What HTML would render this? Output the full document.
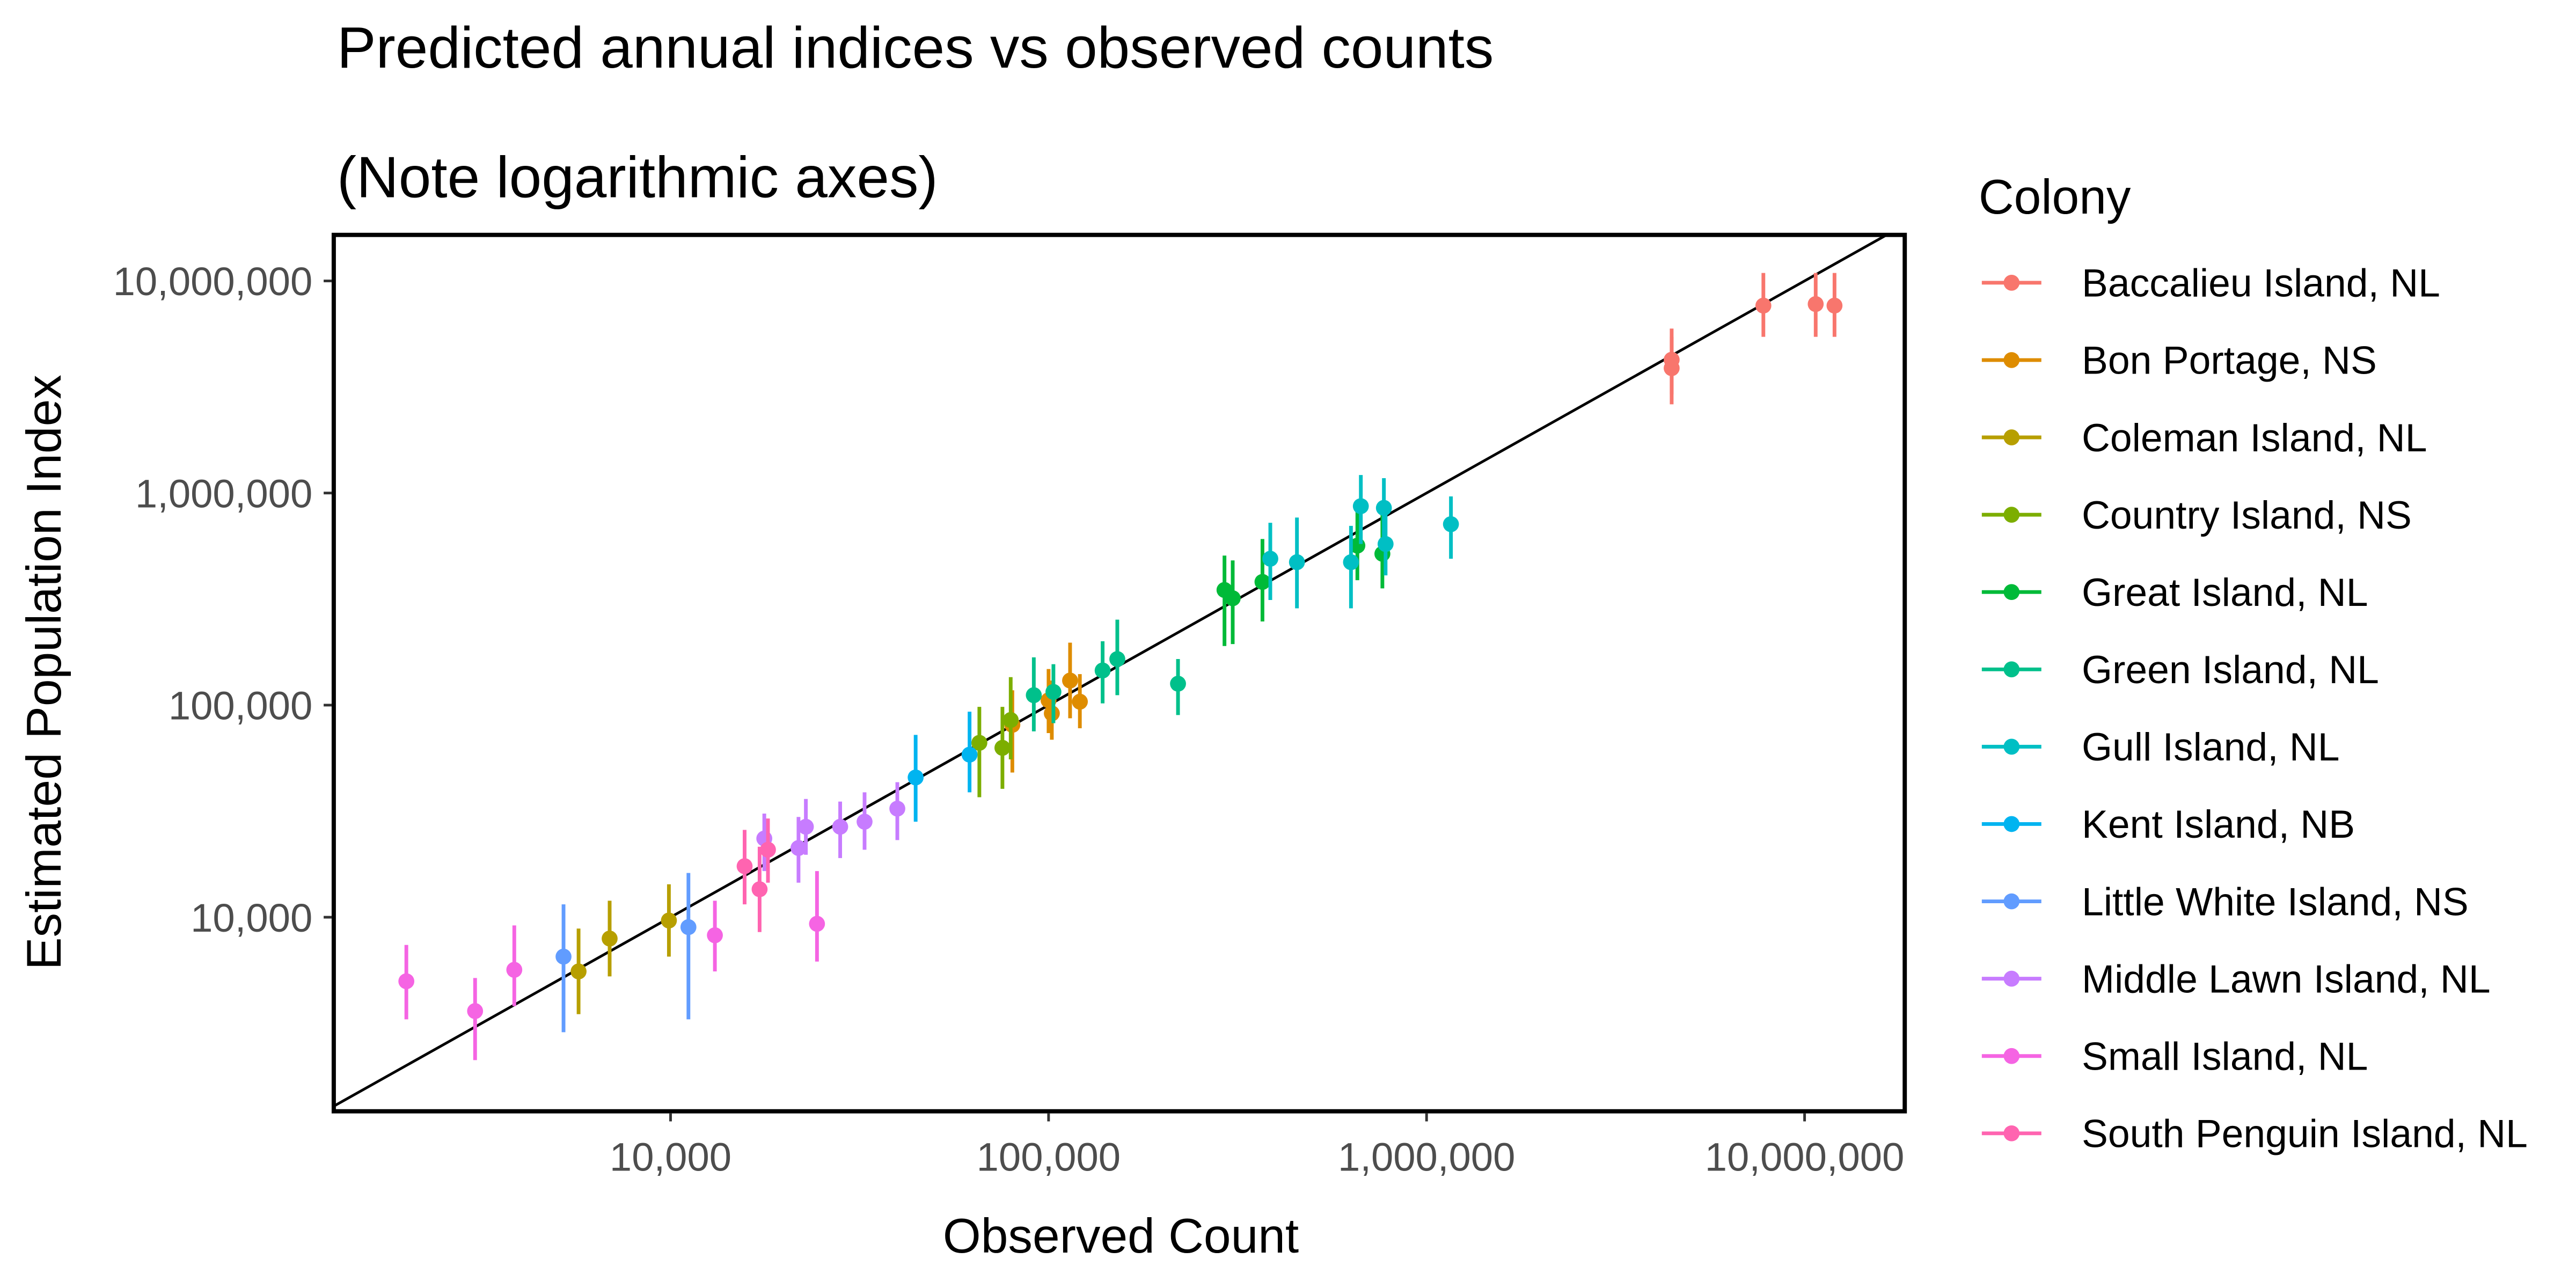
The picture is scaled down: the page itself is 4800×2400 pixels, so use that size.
<!DOCTYPE html>
<html><head><meta charset="utf-8"><style>
html,body{margin:0;padding:0;background:#fff;}
svg{display:block;font-family:"Liberation Sans",Arial,sans-serif;}
</style></head><body>
<svg id="chart" width="4800" height="2400" viewBox="0 0 4800 2400" xmlns="http://www.w3.org/2000/svg">
<rect width="4800" height="2400" fill="#fff"/>
<g transform="scale(0.9903)">
<text x="634" y="127" font-size="110" fill="#000">Predicted annual indices vs observed counts</text>
<text x="634" y="371" font-size="110" fill="#000">(Note logarithmic axes)</text>
<g id="plot"></g>
<text x="2109" y="2357" font-size="92" text-anchor="middle" fill="#000">Observed Count</text>
<text transform="translate(114,1265) rotate(-90)" font-size="92" text-anchor="middle" fill="#000">Estimated Population Index</text>
<g id="legend">
<text x="3723" y="402" font-size="92" fill="#000">Colony</text>
</g>
</g>
</svg>
<script>
const colonies = ["Baccalieu Island, NL","Bon Portage, NS","Coleman Island, NL","Country Island, NS","Great Island, NL","Green Island, NL","Gull Island, NL","Kent Island, NB","Little White Island, NS","Middle Lawn Island, NL","Small Island, NL","South Penguin Island, NL"];
const colors = ["#F8766D","#DE8C00","#B79F00","#7CAE00","#00BA38","#00C08B","#00BFC4","#00B4F0","#619CFF","#C77CFF","#F564E3","#FF64B0"];
const xTicks = [10000,100000,1000000,10000000];
const xTickLabels = ["10,000","100,000","1,000,000","10,000,000"];
const yTicks = [10000,100000,1000000,10000000];
const yTickLabels = ["10,000","100,000","1,000,000","10,000,000"];
const pointColony = [0,0,0,0,0, 1,1,1,1,1, 2,2,2, 3,3,3, 4,4,4,4,4, 5,5,5,5,5, 6,6,6,6,6,6,6, 7,7, 8,8, 9,9,9,9,9,9, 10,10,10,10,10, 11,11,11];
const observed = [4450000,4450000,7780000,10700000,12000000, 80200,100000,102000,114000,121000, 5710,6900,9900, 65600,75500,79400, 292000,307000,368000,656000,764000, 91400,103000,139000,152000,220000, 386000,454000,631000,670000,771000,779000,1160000, 44500,61800, 5210,11150, 17700,21800,22800,28100,32600,39800, 2000,3040,3860,13100,24400, 15700,17200,18100];
const estimate = [4250000,3880000,7650000,7780000,7650000, 80700,105400,91400,130600,103800, 5550,7930,9650, 66400,62900,85100, 349000,319000,381000,565000,517000, 111400,115400,145600,164900,126200, 490000,472000,472000,867000,851000,575000,713000, 45600,58400, 6520,8980, 23500,21200,26700,26700,28200,32500, 4990,3610,5650,8220,9310, 17400,13550,20800];
const lower = [2620000,2920000,5450000,5450000,5450000, 48100,73800,68700,86700,77800, 3490,5260,6520, 36800,40300,55500, 190000,194000,248000,388000,355000, 75200,82200,101900,111400,89800, 313000,286000,286000,575000,575000,409000,490000, 28200,38800, 2870,3300, 16500,14550,19700,19000,20800,23100, 3300,2120,3810,5550,6180, 11500,8510,14550];
const upper = [5960000,5450000,10900000,10900000,10900000, 117500,148000,130600,197000,140000, 8840,11960,14300, 98100,98100,135500, 507000,481000,607000,914000,793000, 168000,156000,200000,253000,164900, 724000,766000,700000,1216000,1175000,835000,964000, 72400,93100, 11500,16170, 30800,29700,36100,35100,38800,43300, 7400,5170,9150,11960,16500, 25800,21500,29200];

const NS="http://www.w3.org/2000/svg";
const L=628,R=3584,T=442,B=2091;
const xMin=3.109,xMax=7.265,yMin=3.085,yMax=7.217;
function xs(v){return L+(Math.log10(v)-xMin)/(xMax-xMin)*(R-L);}
function ys(v){return T+(yMax-Math.log10(v))/(yMax-yMin)*(B-T);}
function mk(tag,attrs,parent){const e=document.createElementNS(NS,tag);for(const k in attrs)e.setAttribute(k,attrs[k]);parent.appendChild(e);return e;}
const plot=document.getElementById('plot');
const clip=mk('clipPath',{id:'clipP'},plot);
mk('rect',{x:L,y:T,width:R-L,height:B-T},clip);
const inner=mk('g',{'clip-path':'url(#clipP)'},plot);
const idl=mk('line',{x1:xs(Math.pow(10,xMin)),y1:ys(Math.pow(10,xMin)),x2:xs(Math.pow(10,xMax)),y2:ys(Math.pow(10,xMax)),stroke:'#000','stroke-width':5},inner);


for(let i=0;i<observed.length;i++){
  const c=colors[pointColony[i]];
  const g=mk('g',{},inner);
  
  
  const x=xs(observed[i]);
  mk('line',{x1:x,x2:x,y1:ys(lower[i]),y2:ys(upper[i]),stroke:c,'stroke-width':7},g);
  mk('circle',{cx:x,cy:ys(estimate[i]),r:15,fill:c},g);
}
mk('rect',{x:L,y:T,width:R-L,height:B-T,fill:'none',stroke:'#000','stroke-width':8},plot);
xTicks.forEach((v,i)=>{
  const x=xs(v);
  const t=mk('line',{x1:x,x2:x,y1:B+4,y2:B+19,stroke:'#333','stroke-width':5},plot);
  
  
  const tx=mk('text',{x:x,y:2203,'font-size':75,'text-anchor':'middle',fill:'#4D4D4D'},plot);
  tx.textContent=xTickLabels[i];
  
  
});
yTicks.forEach((v,i)=>{
  const y=ys(v);
  const t=mk('line',{x1:L-19,x2:L-4,y1:y,y2:y,stroke:'#333','stroke-width':5},plot);
  
  
  const tx=mk('text',{x:588,y:y+27,'font-size':75,'text-anchor':'end',fill:'#4D4D4D'},plot);
  tx.textContent=yTickLabels[i];
  
  
});
const leg=document.getElementById('legend');
colonies.forEach((n,i)=>{
  const cy=532+i*145.5;
  const g=mk('g',{},leg);
  
  
  mk('line',{x1:3729,x2:3841,y1:cy,y2:cy,stroke:colors[i],'stroke-width':7},g);
  mk('circle',{cx:3785,cy:cy,r:15,fill:colors[i]},g);
  const t=mk('text',{x:3917,y:cy+26,'font-size':74,fill:'#000'},g);
  t.textContent=n;
});
</script>
</body></html>
